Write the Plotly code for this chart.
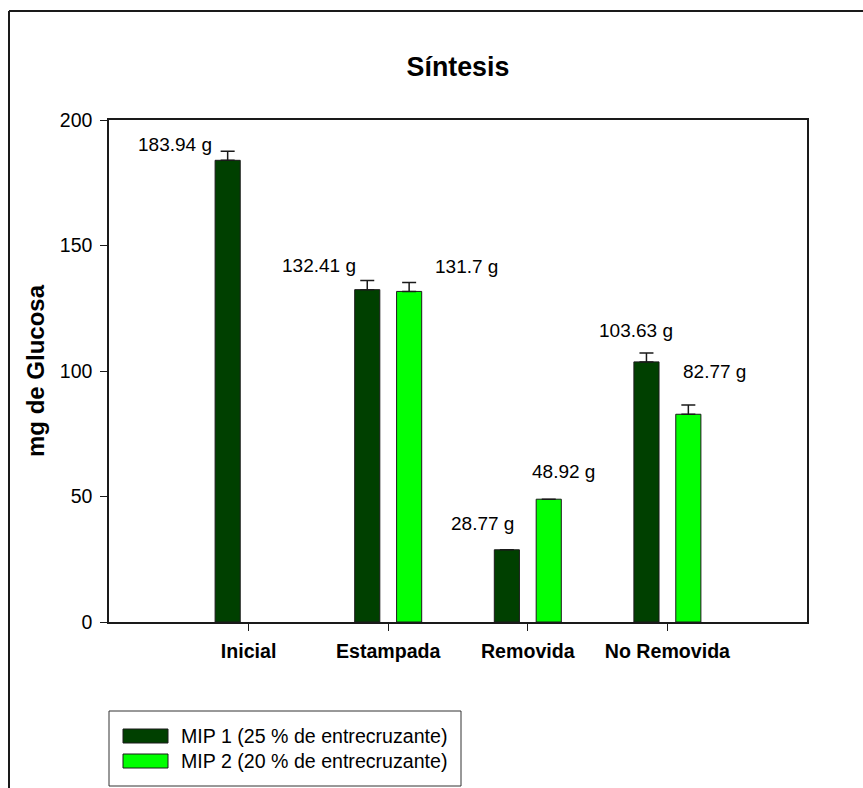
import plotly.graph_objects as go

# Data
categories = ["Inicial", "Estampada", "Removida", "No Removida"]
mip1_values = [183.94, 132.41, 28.77, 103.63]
mip2_values = [None, 131.7, 48.92, 82.77]
mip1_errors = [3.6, 3.6, 0.0, 3.5]
mip2_errors = [None, 3.6, 0.0, 3.7]
series_names = ["MIP 1 (25 % de entrecruzante)", "MIP 2 (20 % de entrecruzante)"]
y_ticks = [0, 50, 100, 150, 200]

# Value label placement (pixel shifts from each bar top)
mip1_label_shift = [(-53, 16), (-48, 24), (-24, 26), (-10, 31)]
mip2_label_shift = [None, (57, 25), (15, 28), (26, 43)]

DARK = "#004000"
LIGHT = "#00FF00"
FONT = "Arial, Liberation Sans, sans-serif"

W, H = 863, 788
L, R, T, B = 109, 807, 120, 622   # plot area in pixels


def px(x):
    return (x - L) / (R - L)


def py(y):
    return (B - y) / (B - T)


fig = go.Figure()
for vals, errs, name, color in [
    (mip1_values, mip1_errors, series_names[0], DARK),
    (mip2_values, mip2_errors, series_names[1], LIGHT),
]:
    fig.add_trace(go.Bar(
        x=categories, y=vals, name=name,
        marker=dict(color=color, line=dict(color="#1a1a1a", width=1)),
        error_y=dict(type="data", array=errs, arrayminus=[0] * len(errs),
                     symmetric=False, color="#1a1a1a", thickness=1.5, width=7),
        showlegend=False,
    ))

annotations = []
group_offset = 0.15
for vals, shifts, sign in [(mip1_values, mip1_label_shift, -1),
                           (mip2_values, mip2_label_shift, 1)]:
    for i, (v, s) in enumerate(zip(vals, shifts)):
        if v is None:
            continue
        annotations.append(dict(
            x=i + sign * group_offset, y=v, xref="x", yref="y",
            text=f"{v:g} g", showarrow=False,
            xanchor="center", yanchor="middle",
            xshift=s[0], yshift=s[1],
            font=dict(family=FONT, size=19, color="black"),
        ))

# Legend drawn as a boxed key under the plot
shapes = [
    # outer frame
    dict(type="line", xref="paper", yref="paper", x0=px(9), x1=px(W + 5), y0=py(11), y1=py(11),
         line=dict(color="#1a1a1a", width=2)),
    dict(type="line", xref="paper", yref="paper", x0=px(9), x1=px(9), y0=py(11), y1=py(H + 5),
         line=dict(color="#1a1a1a", width=2)),
    # legend box
    dict(type="rect", xref="paper", yref="paper", x0=px(109), x1=px(461), y0=py(711), y1=py(786),
         line=dict(color="#333333", width=1), fillcolor="white"),
]
swatch_rows = [736, 761]
for row, color, name in zip(swatch_rows, [DARK, LIGHT], series_names):
    shapes.append(dict(type="rect", xref="paper", yref="paper",
                       x0=px(123), x1=px(168), y0=py(row - 7), y1=py(row + 7),
                       line=dict(color="#1a1a1a", width=1), fillcolor=color))
    annotations.append(dict(x=px(179), y=py(row), xref="paper", yref="paper",
                            text=name, showarrow=False, xanchor="left", yanchor="middle",
                            font=dict(family=FONT, size=19.6, color="black")))

fig.update_layout(
    width=W, height=H,
    margin=dict(l=L, r=W - R, t=T, b=H - B, pad=0),
    paper_bgcolor="white", plot_bgcolor="white",
    barmode="group", bargap=0.40, bargroupgap=0.40,
    title=dict(text="<b>Síntesis</b>", x=0.5, xref="paper", xanchor="center",
               y=1 - 67 / H, yref="container", yanchor="middle",
               font=dict(family=FONT, size=26.8, color="black")),
    font=dict(family=FONT, size=19, color="black"),
    xaxis=dict(type="category", range=[-1, 4], showgrid=False, zeroline=False,
               showline=True, linecolor="#1a1a1a", linewidth=1.5, mirror=True,
               ticks="outside", ticklen=7, tickwidth=1.2, tickcolor="#1a1a1a",
               tickfont=dict(family=FONT, size=19.6, color="black", weight="bold"),
               ticklabelstandoff=4),
    yaxis=dict(range=[0, 200], tickvals=y_ticks, showgrid=False, zeroline=False,
               showline=True, linecolor="#1a1a1a", linewidth=1.5, mirror=True,
               ticks="outside", ticklen=7, tickwidth=1.2, tickcolor="#1a1a1a",
               tickfont=dict(family=FONT, size=19.5, color="black"),
               ticklabelstandoff=4,
               title=dict(text="<b>mg de Glucosa</b>", standoff=8,
                          font=dict(family=FONT, size=24, color="black"))),
    shapes=shapes,
    annotations=annotations,
)

fig.write_html("out.html")
